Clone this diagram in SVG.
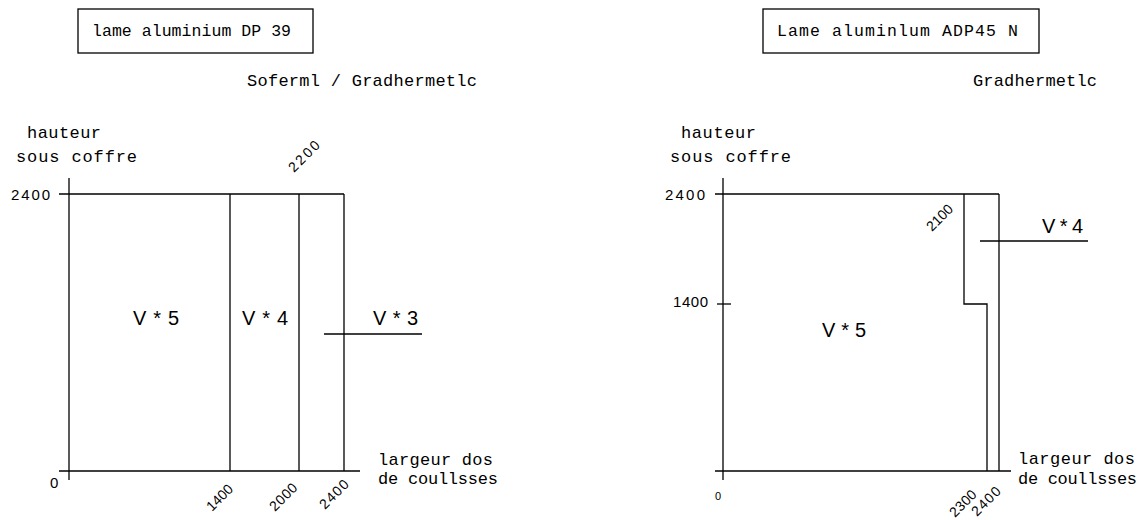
<svg xmlns="http://www.w3.org/2000/svg" width="1144" height="520" viewBox="0 0 1144 520">
<style>
text{font-family:"Liberation Mono","DejaVu Sans Mono",monospace;fill:#000;font-size:17px}
.b{font-size:16.5px}
.n,.v,.r,.s{font-family:"Liberation Sans",Arial,sans-serif}
.n{font-size:15px}
.v{font-size:20px}
.r{font-size:14px}
.s{font-size:11px}
.ln{stroke:#000;stroke-width:1.3;fill:none}
</style>
<rect width="1144" height="520" fill="#fff"/>

<g id="left-title">
<rect class="ln" x="78" y="9" width="235" height="44"/>
<text class="b" x="92" y="36" textLength="199" lengthAdjust="spacing">lame aluminium DP 39</text>
</g>
<text id="left-brand" x="247" y="86" textLength="230" lengthAdjust="spacing">Soferml / Gradhermetlc</text>

<g id="left-axes">
<text x="27" y="138" textLength="74" lengthAdjust="spacing">hauteur</text>
<text x="16" y="162" textLength="121" lengthAdjust="spacing">sous coffre</text>
<text class="n" x="11" y="200" textLength="39" lengthAdjust="spacing">2400</text>
<text class="n" x="50" y="488">0</text>
<text x="378" y="465" textLength="115" lengthAdjust="spacing">largeur dos</text>
<text x="378" y="484" textLength="120" lengthAdjust="spacing">de coullsses</text>
</g>

<g id="left-connectors" class="ln">
<line x1="69" y1="178" x2="69" y2="480"/>
<line x1="59" y1="194" x2="344" y2="194"/>
<line x1="59" y1="471" x2="360" y2="471"/>
<line x1="230" y1="194" x2="230" y2="471"/>
<line x1="299" y1="194" x2="299" y2="471"/>
<line x1="344" y1="194" x2="344" y2="471"/>
<line x1="324" y1="334" x2="422" y2="334"/>
</g>

<g id="left-zones">
<text class="v" x="133" y="325" textLength="46" lengthAdjust="spacing">V*5</text>
<text class="v" x="242" y="325" textLength="46" lengthAdjust="spacing">V*4</text>
<text class="v" x="373" y="325" textLength="45" lengthAdjust="spacing">V*3</text>
</g>

<g id="left-ticks">
<text class="r" transform="translate(294,173) rotate(-45)" textLength="38" lengthAdjust="spacing">2200</text>
<text class="r" transform="translate(212,512) rotate(-45)" textLength="31" lengthAdjust="spacing">1400</text>
<text class="r" transform="translate(275,512) rotate(-45)" textLength="33" lengthAdjust="spacing">2000</text>
<text class="r" transform="translate(325,510) rotate(-45)" textLength="35" lengthAdjust="spacing">2400</text>
</g>

<g id="right-title">
<rect class="ln" x="763" y="9" width="276" height="44"/>
<text class="b" x="777" y="36" textLength="241" lengthAdjust="spacing">Lame aluminlum ADP45 N</text>
</g>
<text id="right-brand" x="973" y="86" textLength="124" lengthAdjust="spacing">Gradhermetlc</text>

<g id="right-axes">
<text x="681" y="138" textLength="75" lengthAdjust="spacing">hauteur</text>
<text x="670" y="162" textLength="121" lengthAdjust="spacing">sous coffre</text>
<text class="n" x="665" y="200" textLength="40" lengthAdjust="spacing">2400</text>
<text class="n" x="673" y="307" textLength="35" lengthAdjust="spacing">1400</text>
<text class="s" x="715" y="500">0</text>
<text x="1018" y="464" textLength="117" lengthAdjust="spacing">largeur dos</text>
<text x="1018" y="484" textLength="119" lengthAdjust="spacing">de coullsses</text>
</g>

<g id="right-connectors" class="ln">
<line x1="723" y1="178" x2="723" y2="480"/>
<line x1="715" y1="194" x2="999" y2="194"/>
<line x1="715" y1="471" x2="1011" y2="471"/>
<line x1="999" y1="194" x2="999" y2="471"/>
<polyline points="964,194 964,304 987,304 987,471"/>
<line x1="717" y1="304" x2="731" y2="304"/>
<line x1="980" y1="241" x2="1088" y2="241"/>
</g>

<g id="right-zones">
<text class="v" x="822" y="337" textLength="44" lengthAdjust="spacing">V*5</text>
<text class="v" x="1042" y="233" textLength="41" lengthAdjust="spacing">V*4</text>
</g>

<g id="right-ticks">
<text class="r" transform="translate(932,232) rotate(-45)" textLength="31" lengthAdjust="spacing">2100</text>
<text class="r" transform="translate(955,518) rotate(-45)" textLength="32" lengthAdjust="spacing">2300</text>
<text class="r" transform="translate(977,517) rotate(-45)" textLength="35" lengthAdjust="spacing">2400</text>
</g>
</svg>
